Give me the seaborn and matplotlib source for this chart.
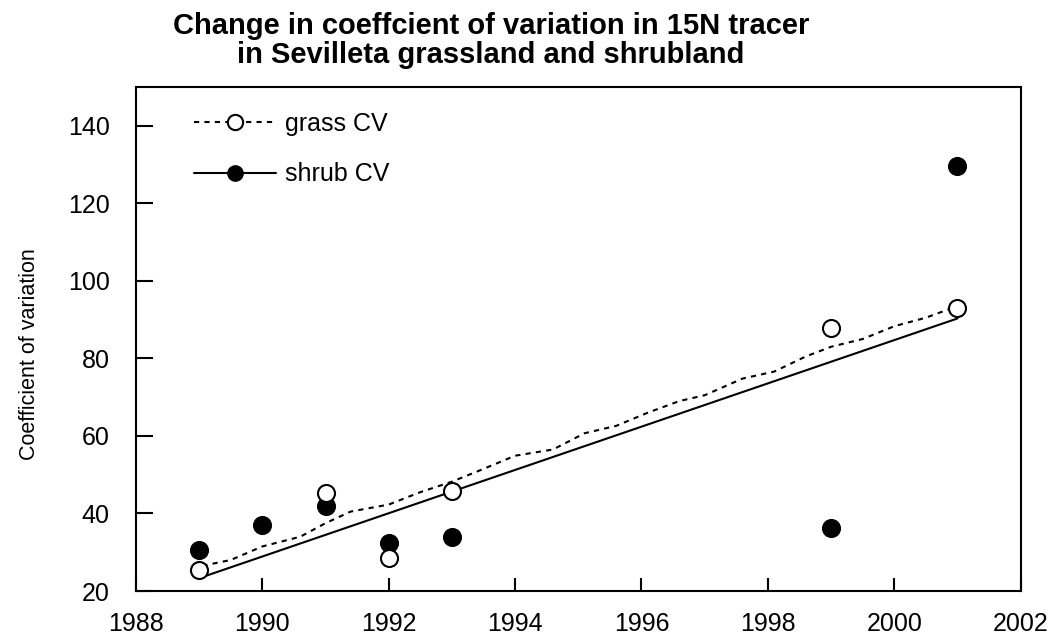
import matplotlib
matplotlib.use("Agg")
import matplotlib.pyplot as plt
from matplotlib.lines import Line2D
import seaborn as sns
import pandas as pd

# observed CV values
grass_years = [1989, 1991, 1992, 1993, 1999, 2001]
grass_cv = [25.5, 45.3, 28.4, 45.9, 87.8, 92.9]

shrub_years = [1989, 1990, 1991, 1992, 1993, 1999, 2001]
shrub_cv = [30.6, 37.0, 41.9, 32.5, 34.0, 36.3, 129.7]

# trend lines as drawn in the original
grass_trend_years = [1989.05, 1989.5, 1990.0, 1990.6, 1991.0, 1991.4, 1992.0, 1992.5,
                     1993.0, 1993.5, 1994.0, 1994.6, 1995.1, 1995.6, 1996.1, 1996.6,
                     1997.0, 1997.6, 1998.1, 1998.6, 1999.0, 1999.5, 2000.0, 2000.5, 2001.0]
grass_trend_cv = [26.5, 28.0, 31.5, 34.0, 37.5, 40.5, 42.3, 45.5, 48.2, 51.5, 54.9, 56.5,
                  60.7, 62.6, 66.0, 69.0, 70.5, 74.8, 76.6, 80.5, 83.0, 85.0, 88.3, 90.5, 93.5]

shrub_trend_years = [1989.05, 2001.0]
shrub_trend_cv = [23.6, 90.3]

x_ticks = [1988, 1990, 1992, 1994, 1996, 1998, 2000, 2002]
y_ticks = [20, 40, 60, 80, 100, 120, 140]

grass = pd.DataFrame({"year": grass_years, "cv": grass_cv})
shrub = pd.DataFrame({"year": shrub_years, "cv": shrub_cv})
grass_trend = pd.DataFrame({"year": grass_trend_years, "cv": grass_trend_cv})
shrub_trend = pd.DataFrame({"year": shrub_trend_years, "cv": shrub_trend_cv})

sns.set_style("white")
plt.rcParams["font.family"] = ["Liberation Sans", "DejaVu Sans"]
plt.rcParams["text.color"] = "black"
plt.rcParams["axes.labelcolor"] = "black"

fig, ax = plt.subplots(figsize=(10.5, 6.39), dpi=100)
fig.subplots_adjust(left=0.1295, right=0.972, top=0.8638, bottom=0.0751)

dash = (0, (2.5, 2.5))
sns.lineplot(data=grass_trend, x="year", y="cv", ax=ax, color="black", lw=1.5,
             linestyle=dash, sort=False)
sns.lineplot(data=shrub_trend, x="year", y="cv", ax=ax, color="black", lw=1.5)
sns.scatterplot(data=shrub, x="year", y="cv", ax=ax, s=150, color="black",
                edgecolor="black", linewidth=1.5, zorder=3)
sns.scatterplot(data=grass, x="year", y="cv", ax=ax, s=150, facecolor="white",
                edgecolor="black", linewidth=1.5, zorder=4)

ax.set_xlim(1988, 2002)
ax.set_ylim(20, 150)
ax.set_xticks(x_ticks)
ax.set_yticks(y_ticks)
ax.tick_params(direction="in", width=1.5, labelsize=18, colors="black",
               top=False, right=False, bottom=True, left=True)
ax.tick_params(axis="x", length=9.5, pad=15)
ax.tick_params(axis="y", length=12, pad=19)
for sp in ax.spines.values():
    sp.set_linewidth(1.5)
    sp.set_color("black")

ax.set_xlabel("")
ax.set_ylabel("Coefficient of variation", fontsize=15.5, color="black")
ax.yaxis.set_label_coords(-0.109, 0.47)
ax.set_title("Change in coeffcient of variation in 15N tracer\nin Sevilleta grassland and shrubland",
             fontsize=21, fontweight="bold", x=0.401, pad=17, linespacing=1.08,
             color="black")

handles = [
    Line2D([], [], color="black", lw=1.5, linestyle=dash, marker="o", markersize=11,
           markerfacecolor="white", markeredgecolor="black", markeredgewidth=1.5),
    Line2D([], [], color="black", lw=1.5, marker="o", markersize=11,
           markerfacecolor="black", markeredgecolor="black"),
]
leg = ax.legend(handles, ["grass CV", "shrub CV"], loc="upper left", frameon=False,
                fontsize=18, handlelength=3.3, handletextpad=0.35, labelspacing=1.05,
                bbox_to_anchor=(0.04, 0.995))
for t in leg.get_texts():
    t.set_color("black")

fig.savefig("out.png", dpi=100)
